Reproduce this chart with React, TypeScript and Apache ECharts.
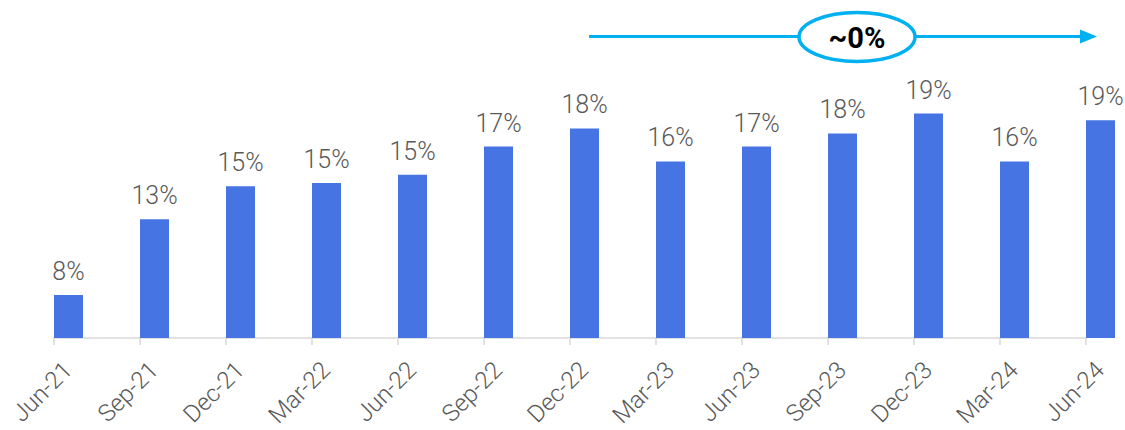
import React, { useEffect, useRef } from "react";
import * as echarts from "echarts";

const categories = ["Jun-21", "Sep-21", "Dec-21", "Mar-22", "Jun-22", "Sep-22", "Dec-22", "Mar-23", "Jun-23", "Sep-23", "Dec-23", "Mar-24", "Jun-24"];
const values = [8.1, 12.7, 14.7, 14.9, 15.4, 17.1, 18.2, 16.2, 17.1, 17.9, 19.1, 16.2, 18.7];
const trendLabel = "~0%";

const W = 1125;
const H = 430;
const gridTop = 90.5;
const gridBottom = 92;

export default function App() {
  const ref = useRef<HTMLDivElement>(null);
  useEffect(() => {
    document.body.style.margin = "0";
    const chart = echarts.init(ref.current!, null, { renderer: "svg" });
    const grey = "#595959";
    const axisGrey = "#D9D9D9";
    const blue = "#00B0F0";
    const yCommon = { type: "value", min: 5.5, max: 20.5, show: false };
    const gridCommon = { top: gridTop, bottom: gridBottom, containLabel: false, outerBoundsMode: "none" };
    chart.setOption({
      animation: false,
      backgroundColor: "#ffffff",
      grid: [
        { ...gridCommon, left: 54, width: 1032 },
        { ...gridCommon, left: 25.5, width: 1118 },
        { ...gridCommon, left: 68, width: 1032 },
      ],
      xAxis: [
        {
          gridIndex: 0,
          type: "category",
          data: categories,
          boundaryGap: false,
          axisLine: { lineStyle: { color: axisGrey, width: 1.5 } },
          axisTick: { show: true, length: 7, lineStyle: { color: axisGrey, width: 1.5 } },
          axisLabel: { show: false },
          splitLine: { show: false },
        },
        {
          gridIndex: 1,
          type: "category",
          data: categories,
          boundaryGap: true,
          show: false,
        },
        {
          gridIndex: 2,
          type: "category",
          data: categories,
          boundaryGap: false,
          axisLine: { show: false },
          axisTick: { show: false },
          splitLine: { show: false },
          axisLabel: {
            show: true,
            interval: 0,
            rotate: 45,
            margin: 28,
            color: grey,
            fontFamily: "Roboto",
            fontWeight: 300,
            fontSize: 24,
          },
        },
      ],
      yAxis: [
        { ...yCommon, gridIndex: 0 },
        { ...yCommon, gridIndex: 1 },
        { ...yCommon, gridIndex: 2 },
      ],
      series: [
        {
          type: "bar",
          xAxisIndex: 1,
          yAxisIndex: 1,
          data: values,
          barWidth: 29,
          clip: true,
          itemStyle: { color: "#4674E3" },
          label: {
            show: true,
            position: "top",
            distance: 11,
            color: grey,
            fontFamily: "Roboto",
            fontWeight: 300,
            fontSize: 25,
            formatter: (p: any) => Math.round(p.value) + "%",
          },
        },
      ],
      graphic: [
        {
          type: "line",
          shape: { x1: 589, y1: 36.5, x2: 1084, y2: 36.5 },
          style: { stroke: blue, lineWidth: 3 },
          z: 10,
        },
        {
          type: "polygon",
          shape: { points: [[1080, 29.5], [1097, 36.5], [1080, 43.5]] },
          style: { fill: blue },
          z: 10,
        },
        {
          type: "ellipse",
          shape: { cx: 857, cy: 37, rx: 58, ry: 24.5 },
          style: { fill: "#ffffff", stroke: blue, lineWidth: 3.5 },
          z: 11,
        },
        {
          type: "text",
          x: 857,
          y: 38,
          style: {
            text: trendLabel,
            align: "center",
            verticalAlign: "middle",
            fill: "#000000",
            fontFamily: "Roboto",
            fontWeight: "bold",
            fontSize: 29,
          },
          z: 12,
        },
      ],
    });
    return () => chart.dispose();
  }, []);
  return <div ref={ref} style={{ width: W, height: H }} />;
}
